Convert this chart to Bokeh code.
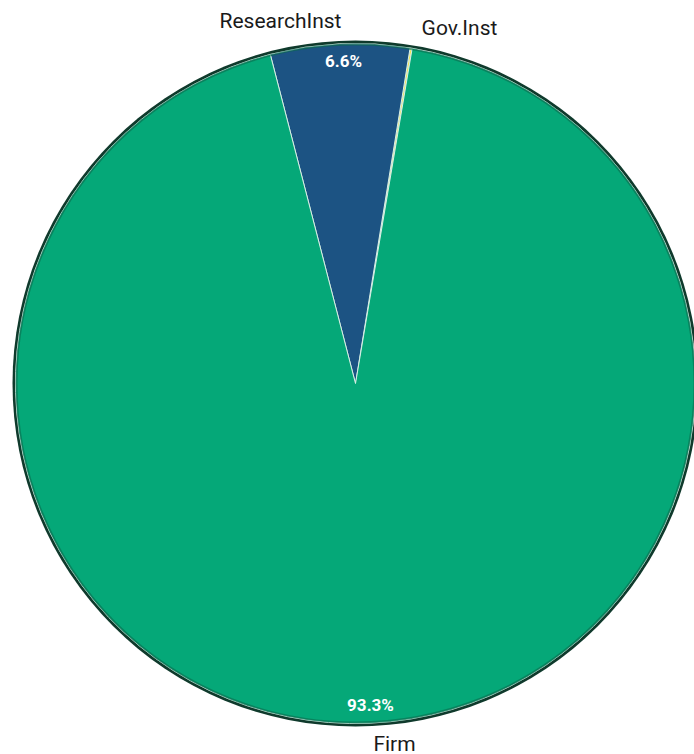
import numpy as np
from bokeh.plotting import figure
from bokeh.models import Range1d, ColumnDataSource
from bokeh.core.properties import value
from bokeh.embed import file_html
from bokeh.resources import INLINE

# data
categories = ["Gov.Inst", "ResearchInst", "Firm"]
shares = [0.1, 6.6, 93.3]
pct_labels = ["", "6.6%", "93.3%"]
colors = ["#f2e34c", "#1c5383", "#05a878"]

W, H = 694, 754
p = figure(width=W, height=H, output_backend="svg", toolbar_location=None,
           x_range=Range1d(0, W), y_range=Range1d(0, H), min_border=0)
p.axis.visible = False
p.grid.visible = False
p.outline_line_color = None
p.background_fill_color = "white"


def px(x):
    return x


def py(y):
    return H - y


cx, cy, r = px(355), py(383), 342
start0 = np.deg2rad(80.4)
frac = np.array(shares) / np.sum(shares)
ends = start0 + np.cumsum(frac) * 2 * np.pi
starts = ends - frac * 2 * np.pi
src = ColumnDataSource(dict(cat=categories, start=starts, end=ends, color=colors))

# dark rim
p.circle(x=[cx], y=[cy], radius=r + 1, fill_color="#0f3a2c", line_color=None)
p.wedge(x=cx, y=cy, radius=r - 2, start_angle="start", end_angle="end",
        fill_color="color", line_color="#d8efe6", line_width=1, source=src)
# soft inner rim shading
p.circle(x=[cx], y=[cy], radius=r - 3, fill_color=None, line_color="#0a6a4c",
         line_width=2, line_alpha=0.6)

# category labels (centre positions)
name_pos = {"ResearchInst": (280, 20), "Gov.Inst": (459, 27), "Firm": (394, 743)}
for name, (x, y) in name_pos.items():
    p.text(x=[px(x)], y=[py(y)], text=[name], text_align="center", text_baseline="middle",
           text_font=value("Roboto"), text_font_size="21px", text_color="#1a1a1a")

# percentage labels
pct_pos = {"6.6%": (343, 60), "93.3%": (370, 704)}
for t, (x, y) in pct_pos.items():
    p.text(x=[px(x)], y=[py(y)], text=[t], text_align="center", text_baseline="middle",
           text_font=value("Roboto"), text_font_size="17px", text_font_style="bold",
           text_color="white")

open("out.html", "w").write(file_html(p, INLINE))
